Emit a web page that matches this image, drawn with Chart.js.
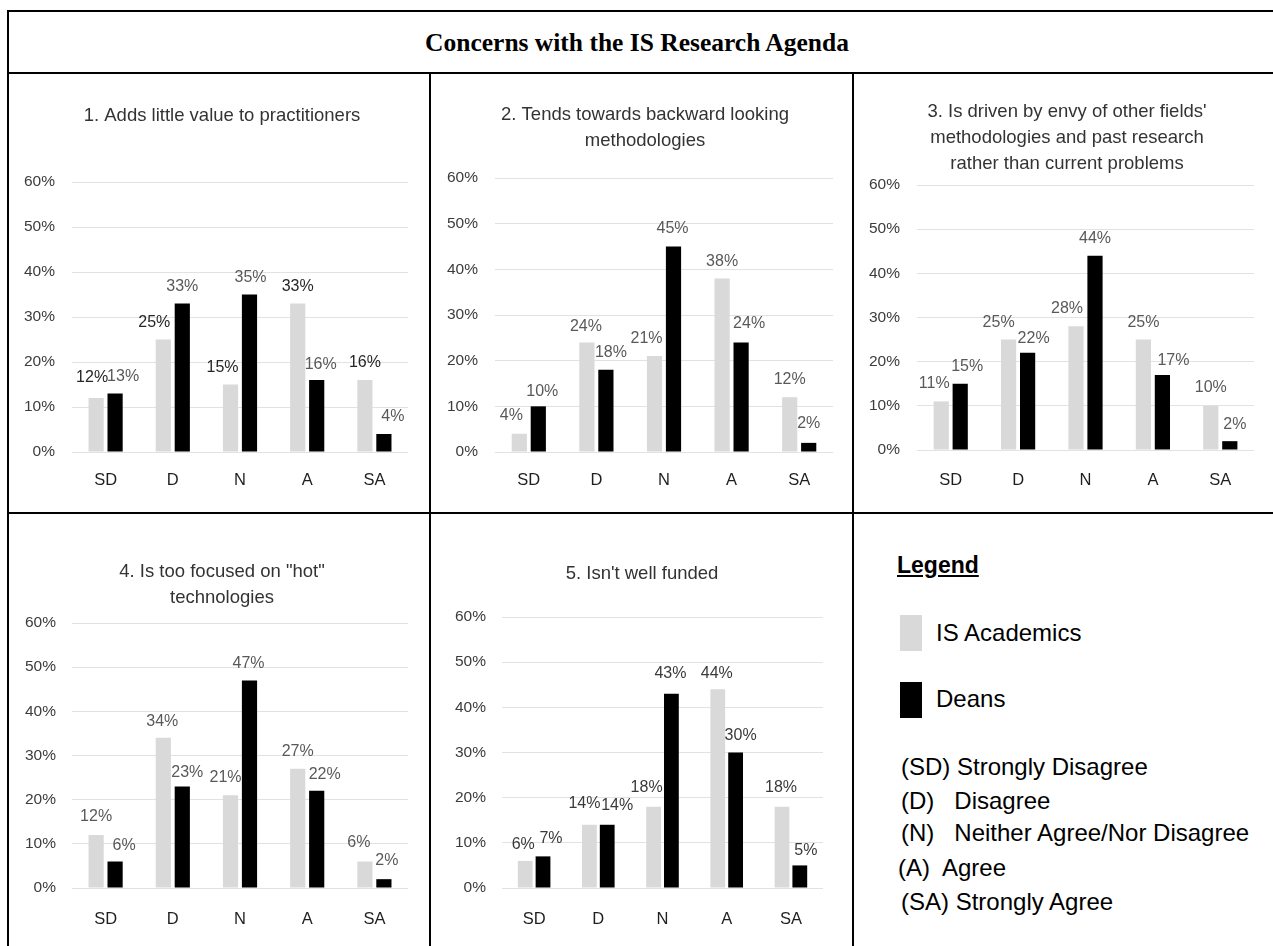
<!DOCTYPE html>
<html>
<head>
<meta charset="utf-8">
<title>Concerns with the IS Research Agenda</title>
<script src="https://cdn.jsdelivr.net/npm/chart.js@4.4.1/dist/chart.umd.min.js"></script>
<style>
  html, body { margin: 0; padding: 0; background: #fff; }
  body { width: 1273px; height: 946px; position: relative; overflow: hidden;
         font-family: 'Liberation Sans', Arial, sans-serif; color: #000; }
  .rule { position: absolute; background: #000; }
  canvas { position: absolute; }
  #mainTitle { position: absolute; left: 9px; width: 1256px; top: 28px; height: 30px; line-height: 30px;
               text-align: center; font-family: 'Liberation Serif', 'Times New Roman', serif;
               font-weight: bold; font-size: 25.5px; }
  .lg { position: absolute; white-space: pre; font-size: 24px; height: 30px; line-height: 30px; }
  #legendHead { font-weight: bold; font-size: 23px; text-decoration: underline; }
  .swatch { position: absolute; width: 22px; height: 36px; }
</style>
</head>
<body>
<!-- table frame -->
<div class="rule" style="left:7px;top:10px;width:1266px;height:2px"></div>
<div class="rule" style="left:7px;top:10px;width:2px;height:936px"></div>
<div class="rule" style="left:7px;top:72px;width:1266px;height:2px"></div>
<div class="rule" style="left:7px;top:512px;width:1266px;height:2px"></div>
<div class="rule" style="left:429px;top:72px;width:2px;height:874px"></div>
<div class="rule" style="left:852px;top:72px;width:2px;height:874px"></div>

<div id="mainTitle">Concerns with the IS Research Agenda</div>

<canvas id="c1"></canvas>
<canvas id="c2"></canvas>
<canvas id="c3"></canvas>
<canvas id="c4"></canvas>
<canvas id="c5"></canvas>

<!-- legend panel -->
<div class="lg" id="legendHead" style="left:897px;top:550px">Legend</div>
<div class="swatch" style="left:900px;top:615px;background:#d9d9d9"></div>
<div class="lg" style="left:936px;top:618px">IS Academics</div>
<div class="swatch" style="left:900px;top:682px;background:#000"></div>
<div class="lg" style="left:936px;top:684px">Deans</div>
<div class="lg" style="left:901px;top:752px">(SD) Strongly Disagree</div>
<div class="lg" style="left:901px;top:786px">(D)   Disagree</div>
<div class="lg" style="left:901px;top:818px">(N)   Neither Agree/Nor Disagree</div>
<div class="lg" style="left:898px;top:853px">(A)  Agree</div>
<div class="lg" style="left:901px;top:887px">(SA) Strongly Agree</div>

<script>
// Response categories and axis ticks
const categories = ['SD', 'D', 'N', 'A', 'SA'];
const yTicks = [0, 10, 20, 30, 40, 50, 60];
const seriesNames = ['IS Academics', 'Deans'];

// Share of respondents (%) per statement
const title1 = ['1. Adds little value to practitioners'];
const academics1 = [12, 25, 15, 33, 16];
const deans1 = [13, 33, 35, 16, 4];

const title2 = ['2. Tends towards backward looking', 'methodologies'];
const academics2 = [4, 24, 21, 38, 12];
const deans2 = [10, 18, 45, 24, 2];

const title3 = ["3. Is driven by envy of other fields'", 'methodologies and past research', 'rather than current problems'];
const academics3 = [11, 25, 28, 25, 10];
const deans3 = [15, 22, 44, 17, 2];

const title4 = ['4. Is too focused on "hot"', 'technologies'];
const academics4 = [12, 34, 21, 27, 6];
const deans4 = [6, 23, 47, 22, 2];

const title5 = ["5. Isn't well funded"];
const academics5 = [6, 14, 18, 44, 18];
const deans5 = [7, 14, 43, 30, 5];

// Colours
const lightFill = '#d9d9d9';
const darkFill = '#000000';
const gridColor = '#e2e2e2';
const FONT = "'Liberation Sans', Arial, sans-serif";

// Panel heading, centred over the panel rather than the plot area
const panelTitle = {
  id: 'panelTitle',
  afterDraw(chart, args, opts) {
    const ctx = chart.ctx;
    ctx.save();
    ctx.font = opts.size + 'px ' + FONT;
    ctx.fillStyle = opts.color;
    ctx.textAlign = 'center';
    ctx.textBaseline = 'middle';
    opts.lines.forEach((t, i) => ctx.fillText(t, opts.x, opts.y + i * opts.lineHeight));
    ctx.restore();
  }
};

// Value labels above each bar; nudges are [dx, gap above bar top] in px
const valueLabels = {
  id: 'valueLabels',
  afterDatasetsDraw(chart, args, opts) {
    const ctx = chart.ctx;
    ctx.save();
    ctx.font = opts.size + 'px ' + FONT;
    ctx.textAlign = 'center';
    ctx.textBaseline = 'middle';
    chart.data.datasets.forEach((ds, di) => {
      const meta = chart.getDatasetMeta(di);
      meta.data.forEach((bar, i) => {
        const n = opts.nudges[di][i];
        ctx.fillStyle = opts.colors[di];
        ctx.fillText(ds.data[i] + '%', bar.x + n[0], bar.y - n[1]);
      });
    });
    ctx.restore();
  }
};

function buildChart(id, spec) {
  const cv = document.getElementById(id);
  cv.width = spec.box[2];
  cv.height = spec.box[3];
  cv.style.left = spec.box[0] + 'px';
  cv.style.top = spec.box[1] + 'px';
  cv.style.width = spec.box[2] + 'px';
  cv.style.height = spec.box[3] + 'px';

  return new Chart(cv, {
    type: 'bar',
    data: {
      labels: categories,
      datasets: [
        { label: seriesNames[0], data: spec.academics, backgroundColor: lightFill, borderWidth: 0,
          categoryPercentage: spec.catPct, barPercentage: spec.barPct },
        { label: seriesNames[1], data: spec.deans, backgroundColor: darkFill, borderWidth: 0,
          categoryPercentage: spec.catPct, barPercentage: spec.barPct }
      ]
    },
    plugins: [valueLabels, panelTitle],
    options: {
      responsive: false,
      devicePixelRatio: 1,
      animation: false,
      layout: { padding: { left: 0, right: spec.padR, top: spec.plotTop, bottom: 0 } },
      plugins: {
        legend: { display: false },
        tooltip: { enabled: false },
        title: { display: false },
        panelTitle: { lines: spec.title, x: spec.titleX, y: spec.titleY, lineHeight: 26,
                      size: 18.5, color: '#333333' },
        valueLabels: { nudges: spec.nudges, colors: spec.labelColors, size: 16 }
      },
      scales: {
        x: {
          grid: { display: false },
          border: { display: false },
          ticks: { color: '#1f1f1f', font: { family: FONT, size: 16.5 }, padding: spec.xPad,
                   maxRotation: 0, autoSkip: false },
          afterFit(scale) { scale.height = spec.xH; }
        },
        y: {
          min: 0, max: 60,
          afterBuildTicks(scale) { scale.ticks = yTicks.map(v => ({ value: v })); },
          grid: { color: gridColor, lineWidth: 1, drawTicks: false },
          border: { display: false },
          ticks: { color: '#3c3c3c', font: { family: FONT, size: 15.5 }, padding: spec.yPad,
                   callback: v => v + '%' },
          afterFit(scale) { scale.width = spec.yW; }
        }
      }
    }
  });
}

const grey = '#595959';

buildChart('c1', {
  box: [9, 74, 420, 438], padR: 21, yW: 63, yPad: 17, xH: 60, xPad: 11, plotTop: 108,
  title: title1, titleX: 213, titleY: 42, academics: academics1, deans: deans1,
  catPct: 0.565, barPct: 0.8, labelColors: ['#262626', grey],
  nudges: [
    [[-4, 20], [-9, 17], [-8, 17], [0, 17], [0, 17]],
    [[8, 17], [0, 17], [1, 17], [4, 15], [9, 17]]
  ]
});

buildChart('c2', {
  box: [431, 74, 421, 438], padR: 19, yW: 64, yPad: 17, xH: 60, xPad: 11, plotTop: 104,
  title: title2, titleX: 214, titleY: 41, academics: academics2, deans: deans2,
  catPct: 0.562, barPct: 0.8, labelColors: [grey, grey],
  nudges: [
    [[-8, 18], [-1, 16], [-8, 18], [0, 17], [0, 18]],
    [[4, 15], [5, 17], [-1, 18], [8, 19], [0, 19]]
  ]
});

buildChart('c3', {
  box: [854, 74, 419, 438], padR: 19, yW: 63, yPad: 17, xH: 62, xPad: 13, plotTop: 111,
  title: title3, titleX: 213, titleY: 38, academics: academics3, deans: deans3,
  catPct: 0.564, barPct: 0.8, labelColors: [grey, grey],
  nudges: [
    [[-7, 18], [-10, 17], [-9, 18], [0, 17], [0, 18]],
    [[7, 17], [6, 14], [0, 17], [11, 14], [5, 17]]
  ]
});

buildChart('c4', {
  box: [9, 514, 420, 432], padR: 21, yW: 63, yPad: 16, xH: 58, xPad: 14, plotTop: 109,
  title: title4, titleX: 213, titleY: 58, academics: academics4, deans: deans4,
  catPct: 0.565, barPct: 0.8, labelColors: [grey, grey],
  nudges: [
    [[0, 18], [-1, 16], [-5, 18], [0, 17], [-6, 19]],
    [[9, 16], [5, 14], [-1, 17], [8, 16], [3, 19]]
  ]
});

buildChart('c5', {
  box: [431, 514, 421, 432], padR: 29, yW: 71, yPad: 16, xH: 58, xPad: 14, plotTop: 103,
  title: title5, titleX: 211, titleY: 60, academics: academics5, deans: deans5,
  catPct: 0.555, barPct: 0.83, labelColors: ['#3a3a3a', '#3a3a3a'],
  nudges: [
    [[-2, 16], [-5, 21], [-7, 19], [-1, 16], [-1, 19]],
    [[8, 18], [10, 19], [-1, 20], [5, 17], [6, 15]]
  ]
});
</script>
</body>
</html>
